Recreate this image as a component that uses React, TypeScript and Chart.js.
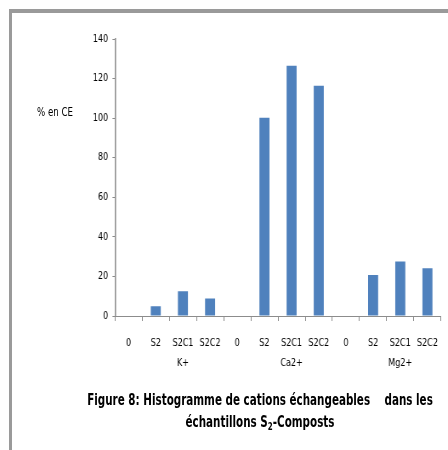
import React, { useEffect, useRef } from 'react';
import { Chart, registerables } from 'chart.js';

Chart.register(...registerables);

// Samples measured for each exchangeable cation
const samples = ['0', 'S2', 'S2C1', 'S2C2'];
const cations = ['K+', 'Ca2+', 'Mg2+'];
// Cation group names are written under this sample
const groupLabelSample = 'S2C1';

// Exchangeable cations (% of CEC)
const kValues = [0, 4.9, 12.5, 8.9];
const caValues = [0, 100.2, 126.5, 116.4];
const mgValues = [0, 20.7, 27.6, 24.1];

const yMin = 0;
const yMax = 140;
const yStep = 20;

const FONT = "'Liberation Sans Narrow', 'DejaVu Sans Condensed', 'Liberation Sans', sans-serif";
const BAR_BLUE = '#4F81BD';
const AXIS_GREY = '#8C8C8C';

// The figure uses a narrow face; the canvas is drawn wider and squeezed horizontally.
const SQUEEZE = 0.85;
const VIEW_W = 448;
const VIEW_H = 450;
const CANVAS_W = Math.round(VIEW_W / SQUEEZE);

const seriesByCation = [kValues, caValues, mgValues];

const labels: (string | string[])[] = [];
const values: number[] = [];
cations.forEach((cation, g) => {
  samples.forEach((s, i) => {
    labels.push(s === groupLabelSample ? [s, cation] : s);
    values.push(seriesByCation[g][i]);
  });
});

export default function App() {
  const canvasRef = useRef<HTMLCanvasElement | null>(null);

  useEffect(() => {
    const canvas = canvasRef.current;
    if (!canvas) return;
    const chart = new Chart(canvas, {
      type: 'bar',
      data: {
        labels,
        datasets: [
          {
            label: '% en CE',
            data: values,
            backgroundColor: BAR_BLUE,
            borderWidth: 0,
            barPercentage: 0.37,
            categoryPercentage: 1,
          },
        ],
      },
      options: {
        responsive: false,
        animation: false,
        layout: { padding: { left: 0, right: CANVAS_W - 441 / SQUEEZE, top: 39, bottom: 0 } },
        plugins: {
          legend: { display: false },
          tooltip: { enabled: false },
          title: { display: false },
        },
        scales: {
          x: {
            offset: true,
            grid: {
              display: true,
              offset: true,
              drawOnChartArea: false,
              drawTicks: true,
              tickLength: 5,
              tickColor: AXIS_GREY,
              color: AXIS_GREY,
            },
            border: { display: true, color: AXIS_GREY, width: 1 },
            ticks: {
              color: '#000',
              padding: 13,
              maxRotation: 0,
              minRotation: 0,
              autoSkip: false,
              font: { family: FONT, size: 10.5, lineHeight: 1.85 },
            },
            afterFit: (scale: any) => {
              scale.height = VIEW_H - 316;
              scale.paddingLeft = 0;
              scale.paddingRight = 0;
            },
          },
          y: {
            min: yMin,
            max: yMax,
            ticks: {
              stepSize: yStep,
              color: '#000',
              padding: 5,
              font: { family: FONT, size: 10.5 },
            },
            grid: {
              display: true,
              drawOnChartArea: false,
              drawTicks: true,
              tickLength: 3,
              tickColor: AXIS_GREY,
            },
            border: { display: true, color: AXIS_GREY, width: 1.5 },
            afterFit: (scale: any) => {
              scale.width = 115 / SQUEEZE;
              scale.paddingTop = 0;
              scale.paddingBottom = 0;
            },
          },
        },
      },
    });
    return () => chart.destroy();
  }, []);

  const titleLine = (top: number): React.CSSProperties => ({
    position: 'absolute',
    left: 260,
    top,
    transform: 'translateX(-50%) scaleX(0.72)',
    whiteSpace: 'pre',
    fontWeight: 'bold',
    fontSize: 16,
    lineHeight: '22px',
    color: '#000',
  });

  return (
    <div
      style={{
        position: 'fixed',
        left: 0,
        top: 0,
        width: VIEW_W,
        height: VIEW_H,
        background: '#fff',
        overflow: 'hidden',
        fontFamily: FONT,
      }}
    >
      <div
        style={{
          position: 'absolute',
          left: 9,
          top: 9,
          width: 460,
          height: 460,
          borderLeft: '3px solid #9A9A9A',
          borderTop: '4px solid #9A9A9A',
          boxSizing: 'border-box',
        }}
      />
      <canvas
        ref={canvasRef}
        width={CANVAS_W}
        height={VIEW_H}
        style={{ position: 'absolute', left: 0, top: 0, transform: `scaleX(${SQUEEZE})`, transformOrigin: '0 0' }}
      />
      <div
        style={{
          position: 'absolute',
          left: 37,
          top: 104,
          fontSize: 12,
          lineHeight: '16px',
          color: '#000',
          whiteSpace: 'nowrap',
          transform: 'scaleX(0.8)',
          transformOrigin: '0 50%',
        }}
      >
        % en CE
      </div>
      <div style={titleLine(389)}>{'Figure 8: Histogramme de cations échangeables    dans les'}</div>
      <div style={titleLine(411)}>
        échantillons S<sub style={{ fontSize: 11, verticalAlign: -3, lineHeight: 0 }}>2</sub>-Composts
      </div>
    </div>
  );
}
